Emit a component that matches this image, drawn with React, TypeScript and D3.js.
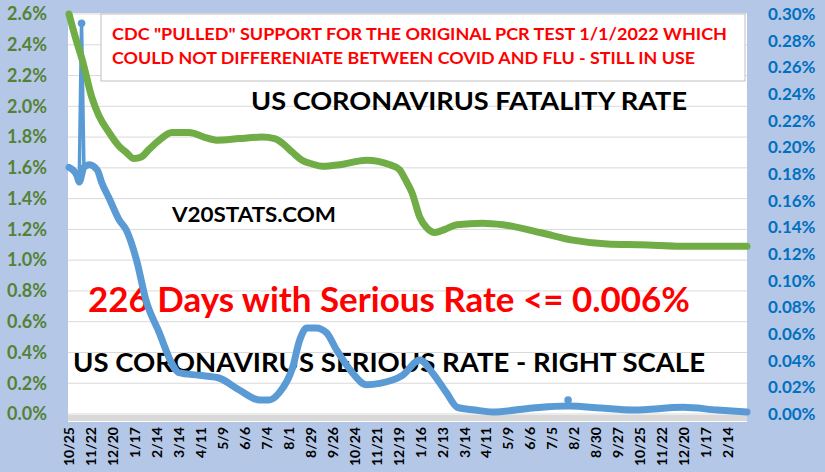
import React from "react";
import * as d3 from "d3";

// ---- Data ----
const xLabels = ["10/25","11/22","12/20","1/17","2/14","3/14","4/11","5/9","6/6","7/4","8/1","8/29","9/26","10/24","11/21","12/19","1/16","2/13","3/14","4/11","5/9","6/6","7/5","8/2","8/30","9/27","10/25","11/22","12/20","1/17","2/14"];
const labelStepDays = 28;
const totalDays = 864;

// Fatality rate (left axis, %)
const fatalityDays = [0, 8, 17, 29, 38, 51, 64, 73, 83, 92, 102, 115, 131, 153, 172, 188, 217, 246, 262, 272, 285, 297, 310, 323, 345, 379, 409, 421, 428, 437, 447, 456, 466, 479, 494, 527, 553, 600, 642, 686, 728, 791, 864];
const fatalityValues = [2.60, 2.45, 2.30, 2.06, 1.94, 1.83, 1.74, 1.70, 1.66, 1.67, 1.72, 1.78, 1.83, 1.83, 1.80, 1.78, 1.79, 1.80, 1.79, 1.76, 1.70, 1.65, 1.625, 1.61, 1.62, 1.65, 1.62, 1.59, 1.53, 1.44, 1.28, 1.21, 1.18, 1.20, 1.23, 1.24, 1.23, 1.18, 1.13, 1.105, 1.10, 1.09, 1.09];

// Serious rate (right axis, %)
const seriousDays = [0, 5, 10, 13, 16, 19, 26, 36, 42, 51, 64, 73, 86, 98, 115, 131, 140, 166, 191, 217, 243, 255, 268, 285, 294, 303, 315, 328, 341, 361, 379, 396, 425, 447, 463, 481, 495, 517, 540, 591, 634, 636, 638, 677, 719, 783, 826, 864];
const seriousValues = [0.185, 0.183, 0.179, 0.174, 0.293, 0.185, 0.187, 0.183, 0.173, 0.162, 0.1455, 0.138, 0.1155, 0.0855, 0.061, 0.038, 0.031, 0.029, 0.027, 0.018, 0.0105, 0.0105, 0.016, 0.035, 0.0555, 0.0645, 0.0645, 0.061, 0.048, 0.031, 0.022, 0.023, 0.029, 0.0405, 0.031, 0.016, 0.005, 0.003, 0.0015, 0.0045, 0.006, 0.0105, 0.006, 0.0045, 0.003, 0.005, 0.003, 0.0015];
const seriousSpikeDays = [16, 636];

const leftTicks = [0, 0.2, 0.4, 0.6, 0.8, 1.0, 1.2, 1.4, 1.6, 1.8, 2.0, 2.2, 2.4, 2.6];
const rightTicks = [0, 0.02, 0.04, 0.06, 0.08, 0.10, 0.12, 0.14, 0.16, 0.18, 0.20, 0.22, 0.24, 0.26, 0.28, 0.30];

const boxLine1 = 'CDC "PULLED" SUPPORT FOR THE ORIGINAL PCR TEST 1/1/2022 WHICH';
const boxLine2 = "COULD NOT DIFFERENIATE BETWEEN COVID AND FLU - STILL IN USE";
const title1 = "US CORONAVIRUS FATALITY RATE";
const site = "V20STATS.COM";
const daysNote = "226 Days with Serious Rate <= 0.006%";
const title2 = "US CORONAVIRUS SERIOUS RATE - RIGHT SCALE";

const W = 825, H = 472;
const plotL = 68, plotR = 747, plotT = 13, plotB = 414;
const FONT = "Lato, 'Open Sans', sans-serif";

export default function App() {
  const x = d3.scaleLinear().domain([0, totalDays]).range([69, plotR]);
  const yL = d3.scaleLinear().domain([0, 2.6]).range([plotB, 14]);
  const yR = d3.scaleLinear().domain([0, 0.30]).range([plotB, 14]);

  const fat = fatalityDays.map((d, i) => [d, fatalityValues[i]] as [number, number]);
  const ser = seriousDays.map((d, i) => [d, seriousValues[i]] as [number, number]);
  const serMain = ser.filter(p => !seriousSpikeDays.includes(p[0]));

  const lineL = d3.line<[number, number]>().x(p => x(p[0])).y(p => yL(p[1])).curve(d3.curveMonotoneX);
  const lineR = d3.line<[number, number]>().x(p => x(p[0])).y(p => yR(p[1])).curve(d3.curveMonotoneX);
  const lineRLin = d3.line<[number, number]>().x(p => x(p[0])).y(p => yR(p[1]));

  const spikes = seriousSpikeDays.map(sd => {
    const i = seriousDays.indexOf(sd);
    return [ser[i - 1], ser[i], ser[i + 1]];
  });

  return (
    <svg width={W} height={H} style={{ position: "absolute", left: 0, top: 0 }}>
      <rect x={0} y={0} width={W} height={H} fill="#B4C7E7" />
      <rect x={plotL} y={plotT} width={plotR - plotL} height={plotB - plotT + 8} fill="#FFFFFF" />
      {leftTicks.map(t => (
        <line key={"g" + t} x1={plotL} x2={plotR} y1={yL(t)} y2={yL(t)} stroke="#D9D9D9" strokeWidth={1} />
      ))}
      <rect x={plotL} y={plotB + 1} width={plotR - plotL} height={6} fill="#D9D9D9" />

      {/* annotation box */}
      <rect x={101} y={14} width={644} height={67} fill="#FFFFFF" stroke="#BFBFBF" strokeWidth={1} />
      <text x={112} y={39.5} fontFamily={FONT} fontWeight={700} fontSize={17} fill="#FF0000" textLength={615} lengthAdjust="spacingAndGlyphs">{boxLine1}</text>
      <text x={112} y={64} fontFamily={FONT} fontWeight={700} fontSize={17} fill="#FF0000" textLength={583} lengthAdjust="spacingAndGlyphs">{boxLine2}</text>

      <text x={251} y={110} fontFamily={FONT} fontWeight={700} fontSize={25} fill="#000" textLength={436} lengthAdjust="spacingAndGlyphs">{title1}</text>
      <text x={172} y={222} fontFamily={FONT} fontWeight={700} fontSize={21} fill="#000" textLength={164} lengthAdjust="spacingAndGlyphs">{site}</text>
      <text x={88} y={312} fontFamily={FONT} fontWeight={700} fontSize={34} fill="#FF0000" textLength={602} lengthAdjust="spacingAndGlyphs">{daysNote}</text>
      <text x={73} y={372} fontFamily={FONT} fontWeight={700} fontSize={26} fill="#000" textLength={632} lengthAdjust="spacingAndGlyphs">{title2}</text>

      {/* series */}
      {spikes.map((s, i) => (
        <g key={"s" + i}>
          <path d={lineRLin(s) || ""} fill="none" stroke="#5B9BD5" strokeWidth={3.5} strokeLinejoin="round" />
          <circle cx={x(s[1][0])} cy={yR(s[1][1])} r={3.8} fill="#5B9BD5" />
        </g>
      ))}
      <path d={lineR(serMain) || ""} fill="none" stroke="#5B9BD5" strokeWidth={7} strokeLinecap="round" strokeLinejoin="round" />
      <path d={lineL(fat) || ""} fill="none" stroke="#70AD47" strokeWidth={7} strokeLinecap="round" strokeLinejoin="round" />

      {/* left axis */}
      {leftTicks.map(t => (
        <text key={"l" + t} x={47} y={yL(t)} dy="0.35em" textAnchor="end" fontFamily={FONT} fontWeight={700} fontSize={18} fill="#548235">
          {t.toFixed(1) + "%"}
        </text>
      ))}
      {/* right axis */}
      {rightTicks.map(t => (
        <text key={"r" + t} x={768} y={yR(t)} dy="0.35em" textAnchor="start" fontFamily={FONT} fontWeight={700} fontSize={17} fill="#0070C0">
          {t.toFixed(2) + "%"}
        </text>
      ))}
      {/* x axis labels */}
      {xLabels.map((lab, i) => {
        const xp = x(i * labelStepDays);
        return (
          <text key={"x" + i} transform={`translate(${xp + 5},427) rotate(-90)`} textAnchor="end" fontFamily={FONT} fontWeight={700} fontSize={14} fill="#000">
            {lab}
          </text>
        );
      })}
    </svg>
  );
}
